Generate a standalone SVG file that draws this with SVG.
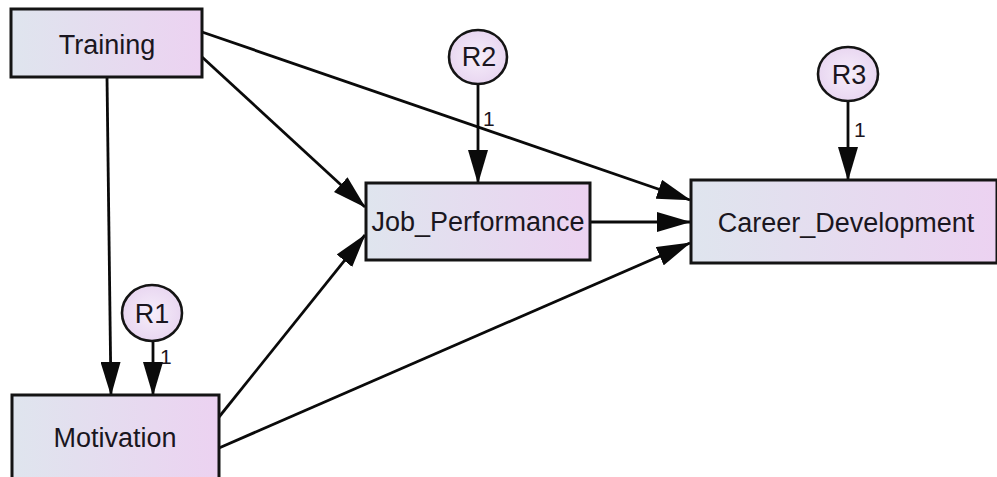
<svg xmlns="http://www.w3.org/2000/svg" width="997" height="477" viewBox="0 0 997 477">
<defs>
<linearGradient id="boxg" x1="0" y1="0" x2="1" y2="0">
<stop offset="0" stop-color="#dfe5ee"/>
<stop offset="1" stop-color="#ecd2f1"/>
</linearGradient>
<radialGradient id="circg" cx="0.5" cy="0.5" r="0.6">
<stop offset="0" stop-color="#f6eefa"/>
<stop offset="1" stop-color="#e6d2ef"/>
</radialGradient>
<marker id="arr" viewBox="0 0 34 20" markerWidth="34" markerHeight="20" refX="33" refY="10" orient="auto" markerUnits="userSpaceOnUse">
<path d="M0,0 L34,10 L0,20 z" fill="#0a0a0a"/>
</marker>
</defs>
<style>
.box{fill:url(#boxg);stroke:#141414;stroke-width:3}
.res{fill:url(#circg);stroke:#141414;stroke-width:2.6}
.lbl{font-family:"Liberation Sans",Arial,sans-serif;font-size:27px;fill:#1a1620;text-anchor:middle}
.one{font-family:"Liberation Sans",Arial,sans-serif;font-size:21px;fill:#1a1620}
.edge{stroke:#0a0a0a;stroke-width:2.8;fill:none;marker-end:url(#arr)}
</style>
<rect width="997" height="477" fill="#ffffff"/>
<g id="connectors">
<line class="edge" x1="107" y1="77" x2="111" y2="395"/>
<line class="edge" x1="202" y1="57" x2="365" y2="207"/>
<line class="edge" x1="202" y1="32" x2="690" y2="200"/>
<line class="edge" x1="219" y1="417" x2="365" y2="235"/>
<line class="edge" x1="219" y1="448" x2="690" y2="243"/>
<line class="edge" x1="590" y1="222" x2="690" y2="222"/>
<line class="edge" x1="478" y1="84" x2="478" y2="183"/>
<line class="edge" x1="848" y1="101" x2="848" y2="180"/>
<line class="edge" x1="153" y1="341" x2="153" y2="395"/>
<text class="one" x="160" y="364">1</text>
<text class="one" x="483" y="126">1</text>
<text class="one" x="854" y="137">1</text>
</g>
<g id="Training">
<rect class="box" x="11" y="9" width="191" height="68"/>
<text class="lbl" x="107" y="54">Training</text>
</g>
<g id="Job_Performance">
<rect class="box" x="366" y="183" width="224" height="77"/>
<text class="lbl" x="478" y="231">Job_Performance</text>
</g>
<g id="Career_Development">
<rect class="box" x="691" y="180" width="306" height="83"/>
<text class="lbl" x="846" y="232">Career_Development</text>
</g>
<g id="Motivation">
<rect class="box" x="12" y="395" width="207" height="84"/>
<text class="lbl" x="115" y="447">Motivation</text>
</g>
<g id="R1">
<ellipse class="res" cx="152" cy="313" rx="30" ry="28"/>
<text class="lbl" x="152" y="323">R1</text>
</g>
<g id="R2">
<ellipse class="res" cx="478" cy="57" rx="29" ry="27"/>
<text class="lbl" x="479" y="66">R2</text>
</g>
<g id="R3">
<ellipse class="res" cx="848" cy="74" rx="30" ry="27"/>
<text class="lbl" x="849" y="84">R3</text>
</g>
</svg>
